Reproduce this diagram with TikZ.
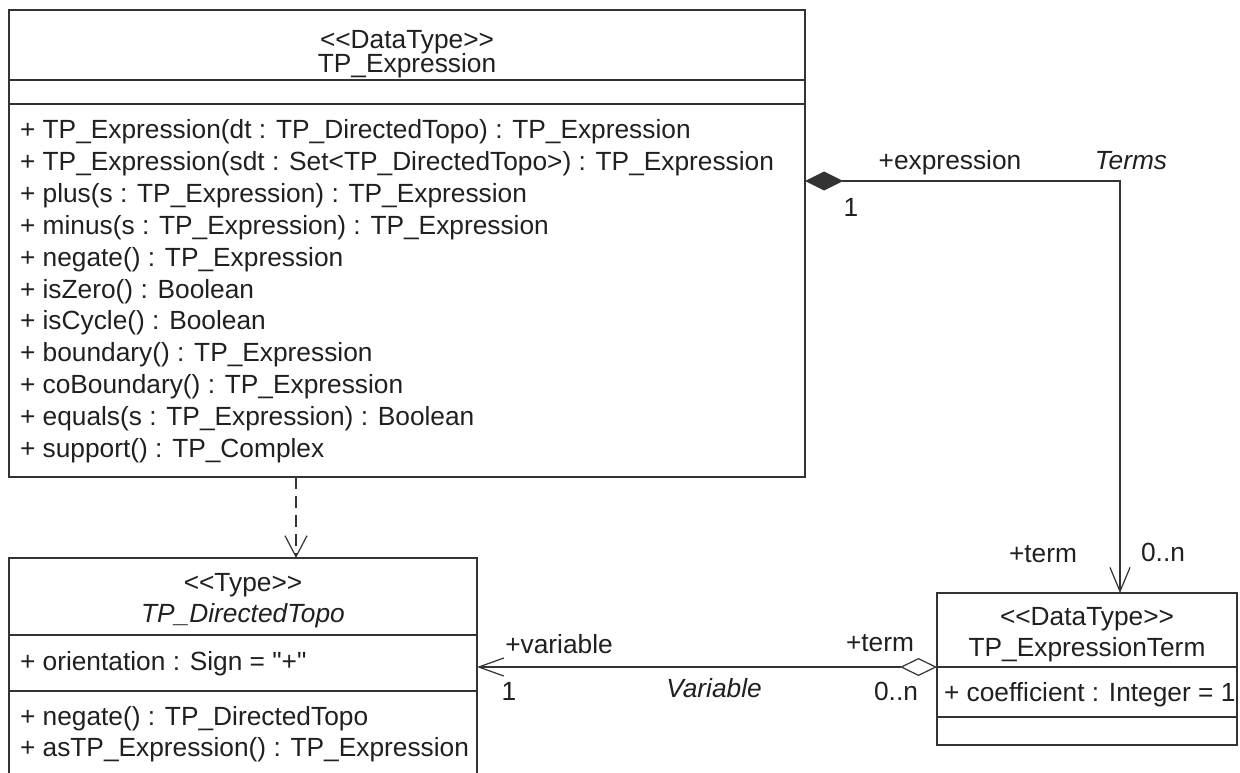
\documentclass[tikz,border=0pt]{standalone}
\usepackage{fontspec}
\setmainfont{Liberation Sans}[Ligatures={TeXOff,CommonOff}]
\usetikzlibrary{fit,arrows.meta}
\definecolor{ink}{HTML}{231F20}
\definecolor{edge}{HTML}{333333}
\begin{document}
\begin{tikzpicture}[x=0.5pt,y=-0.5pt,
  every node/.style={inner sep=0pt,outer sep=0pt,text=ink,font=\fontsize{13.15}{15.8}\selectfont},
  classbox/.style={draw=edge,line width=0.9pt,inner sep=0pt},
  sepline/.style={draw=edge,line width=0.9pt},
  conn/.style={draw=edge,line width=0.6pt},
  lbl/.style={anchor=base},
  ln/.style={anchor=base west},
]
\clip (0,0) rectangle (1240,772);
\fill[white] (0,0) rectangle (1240,772);
% ---------- TP_Expression ----------
\coordinate (e1) at (9,10); \coordinate (e2) at (805,477);
\node[classbox,fit=(e1)(e2)] (expr) {};
\draw[sepline] (expr.west |- 0,80) -- (expr.east |- 0,80);
\draw[sepline] (expr.west |- 0,104) -- (expr.east |- 0,104);
\node[lbl] (exst) at (407,48) {<<DataType>>};
\node[lbl] (exnm) at (407,72.5) {TP\_Expression};
\foreach \t [count=\i from 0] in {
  {+ TP\_Expression(dt : TP\_DirectedTopo) : TP\_Expression},
  {+ TP\_Expression(sdt : Set<TP\_DirectedTopo>) : TP\_Expression},
  {+ plus(s : TP\_Expression) : TP\_Expression},
  {+ minus(s : TP\_Expression) : TP\_Expression},
  {+ negate() : TP\_Expression},
  {+ isZero() : Boolean},
  {+ isCycle() : Boolean},
  {+ boundary() : TP\_Expression},
  {+ coBoundary() : TP\_Expression},
  {+ equals(s : TP\_Expression) : Boolean},
  {+ support() : TP\_Complex}}
  \node[ln] (m\i) at (20,{138.5+31.9*\i}) {\t};
% ---------- TP_DirectedTopo ----------
\coordinate (t1) at (9,558); \coordinate (t2) at (477,800);
\node[classbox,fit=(t1)(t2)] (topo) {};
\draw[sepline] (topo.west |- 0,635) -- (topo.east |- 0,635);
\draw[sepline] (topo.west |- 0,691) -- (topo.east |- 0,691);
\node[lbl] (tost) at (243,591.5) {<<Type>>};
\node[lbl] (tonm) at (243,622.5) {\itshape TP\_DirectedTopo};
\node[ln] (toa) at (20,670.5) {+ orientation : Sign = "+"};
\node[ln] (tom1) at (20,725.5) {+ negate() : TP\_DirectedTopo};
\node[ln] (tom2) at (20,756.5) {+ asTP\_Expression() : TP\_Expression};
% ---------- TP_ExpressionTerm ----------
\coordinate (r1) at (937,593); \coordinate (r2) at (1237,745);
\node[classbox,fit=(r1)(r2)] (term) {};
\draw[sepline] (term.west |- 0,667) -- (term.east |- 0,667);
\draw[sepline] (term.west |- 0,717) -- (term.east |- 0,717);
\node[lbl] (trst) at (1087,625.5) {<<DataType>>};
\node[lbl] (trnm) at (1087,656.5) {TP\_ExpressionTerm};
\node[ln] (tra) at (944,701.5) {+ coefficient : Integer = 1};
% ---------- connectors ----------
\coordinate (depx) at (296,0);
\draw[conn,dash pattern=on 6pt off 3.5pt,-{Straight Barb[length=10.5pt,width=11pt]}]
  (depx |- expr.south) -- (depx |- topo.north);
\coordinate (compy) at (0,181);
\coordinate (compx) at (1120,0);
\draw[conn,{Diamond[length=19pt,width=9.5pt,fill=edge]}-{Straight Barb[length=12pt,width=10pt]}]
  (compy -| expr.east) -| (compx |- term.north);
\coordinate (vary) at (0,667);
\draw[conn,{Straight Barb[length=12.5pt,width=9pt]}-{Diamond[open,length=18.5pt,width=9pt]}]
  (vary -| topo.east) -- (vary -| term.west);
% ---------- connector labels ----------
\node[lbl] (lexpr) at (950,169.5) {+expression};
\node[lbl] (lterms) at (1131,169.5) {\itshape Terms};
\node[lbl] (lone1) at (851,216.5) {1};
\node[lbl] (lterm1) at (1043,562.5) {+term};
\node[lbl] (lzn1) at (1163,561.5) {0..n};
\node[lbl] (lvar) at (559,653.5) {+variable};
\node[lbl] (lone2) at (509,700.5) {1};
\node[lbl] (lVar) at (714,697.5) {\itshape Variable};
\node[lbl] (lterm2) at (880,651.5) {+term};
\node[lbl] (lzn2) at (896,700.5) {0..n};
\end{tikzpicture}
\end{document}
